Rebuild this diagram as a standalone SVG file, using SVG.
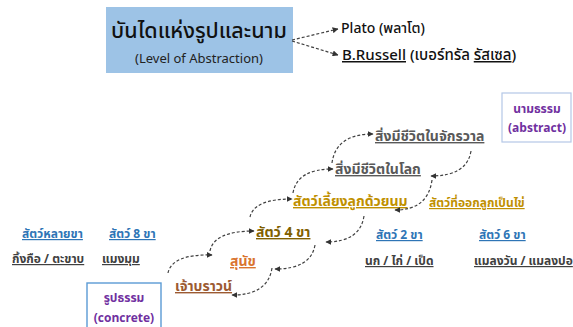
<svg xmlns="http://www.w3.org/2000/svg" width="573" height="327" viewBox="0 0 573 327">
<defs>
<style>
text{font-family:"Noto Sans Thai","Noto Sans","DejaVu Sans",sans-serif;}
.lbl{font-size:14px;font-weight:bold;text-decoration:underline;}
.sm{font-size:12px;font-weight:bold;text-decoration:underline;}
.c{stroke:#404040;stroke-width:1.2;fill:none;stroke-dasharray:3 2;marker-end:url(#ah);}
.box{font-size:12px;font-weight:bold;fill:#7030a0;text-anchor:middle;}
</style>
<marker id="ah" viewBox="0 0 10 10" refX="9" refY="5" markerWidth="6" markerHeight="6" markerUnits="userSpaceOnUse" orient="auto">
<path d="M0,0 L10,5 L0,10 z" fill="#333"/>
</marker>
</defs>
<rect width="573" height="327" fill="#fff"/>
<g id="title">
<rect x="106" y="7" width="187" height="66" fill="#9dc3e6"/>
<text x="199" y="38" text-anchor="middle" font-size="21.5" font-weight="500" fill="#111">บันไดแห่งรูปและนาม</text>
<text x="199" y="63" text-anchor="middle" font-size="13" fill="#222">(Level of Abstraction)</text>
</g>
<g id="plato"><text x="341" y="33" font-size="14" font-weight="500" fill="#111">Plato (พลาโต)</text></g>
<g id="russell"><text x="342" y="60" font-size="15" font-weight="500" fill="#111"><tspan text-decoration="underline">B.Russell</tspan> (เบอร์ทรัล <tspan text-decoration="underline">รัสเซล</tspan>)</text></g>
<g id="abstract">
<rect x="502" y="93" width="69" height="49" fill="#fff" stroke="#b4c7e7" stroke-width="1.2"/>
<text class="box" x="537" y="113">นามธรรม</text>
<text class="box" x="537" y="132">(abstract)</text>
</g>
<g id="concrete">
<rect x="87" y="283" width="74" height="50" fill="#fff" stroke="#5b9bd5" stroke-width="1.4"/>
<text class="box" x="124" y="302">รูปธรรม</text>
<text class="box" x="124" y="322">(concrete)</text>
</g>
<g id="universe"><text class="lbl" x="375" y="141" fill="#595959">สิ่งมีชีวิตในจักรวาล</text></g>
<g id="world"><text class="lbl" x="335" y="174" fill="#595959">สิ่งมีชีวิตในโลก</text></g>
<g id="mammal"><text class="lbl" x="293" y="206" fill="#bf9000">สัตว์เลี้ยงลูกด้วยนม</text></g>
<g id="egg"><text class="sm" x="429" y="207" fill="#bf9000">สัตว์ที่ออกลูกเป็นไข่</text></g>
<g id="four"><text class="lbl" x="256" y="237" fill="#7f6000">สัตว์ 4 ขา</text></g>
<g id="dog"><text class="lbl" x="230" y="266" fill="#d9742f">สุนัข</text></g>
<g id="brown"><text class="lbl" x="175" y="291" fill="#9c5a32">เจ้าบราวน์</text></g>
<g id="two"><text class="sm" x="376" y="239" fill="#2e75b6">สัตว์ 2 ขา</text></g>
<g id="six"><text class="sm" x="479" y="239" fill="#2e75b6">สัตว์ 6 ขา</text></g>
<g id="birds"><text class="sm" x="365" y="265" fill="#404040">นก / ไก่ / เป็ด</text></g>
<g id="insects"><text class="sm" x="474" y="265" fill="#404040">แมลงวัน / แมลงปอ</text></g>
<g id="many"><text class="sm" x="22" y="238" fill="#2e75b6">สัตว์หลายขา</text></g>
<g id="eight"><text class="sm" x="109" y="238" fill="#2e75b6">สัตว์ 8 ขา</text></g>
<g id="centipede"><text class="sm" x="12" y="263" fill="#404040">กิ้งกือ / ตะขาบ</text></g>
<g id="spider"><text class="sm" x="102" y="263" fill="#404040">แมงมุม</text></g>
<g id="connectors">
<path class="c" d="M292,40 L338,29"/>
<path class="c" d="M292,41 L338,55"/>
<path class="c" d="M168,273 Q172,254 212,255"/>
<path class="c" d="M210,251 Q214,231 254,231"/>
<path class="c" d="M250,217 Q254,199 292,199"/>
<path class="c" d="M293,193 Q297,169 333,169"/>
<path class="c" d="M332,163 Q336,134 373,134"/>
<path class="c" d="M471,151 Q467,176 431,176"/>
<path class="c" d="M432,180 Q428,210 395,210"/>
<path class="c" d="M364,216 Q360,242 326,242"/>
<path class="c" d="M315,245 Q311,269 275,269"/>
<path class="c" d="M272,268 Q268,295 232,295"/>
</g>
</svg>
